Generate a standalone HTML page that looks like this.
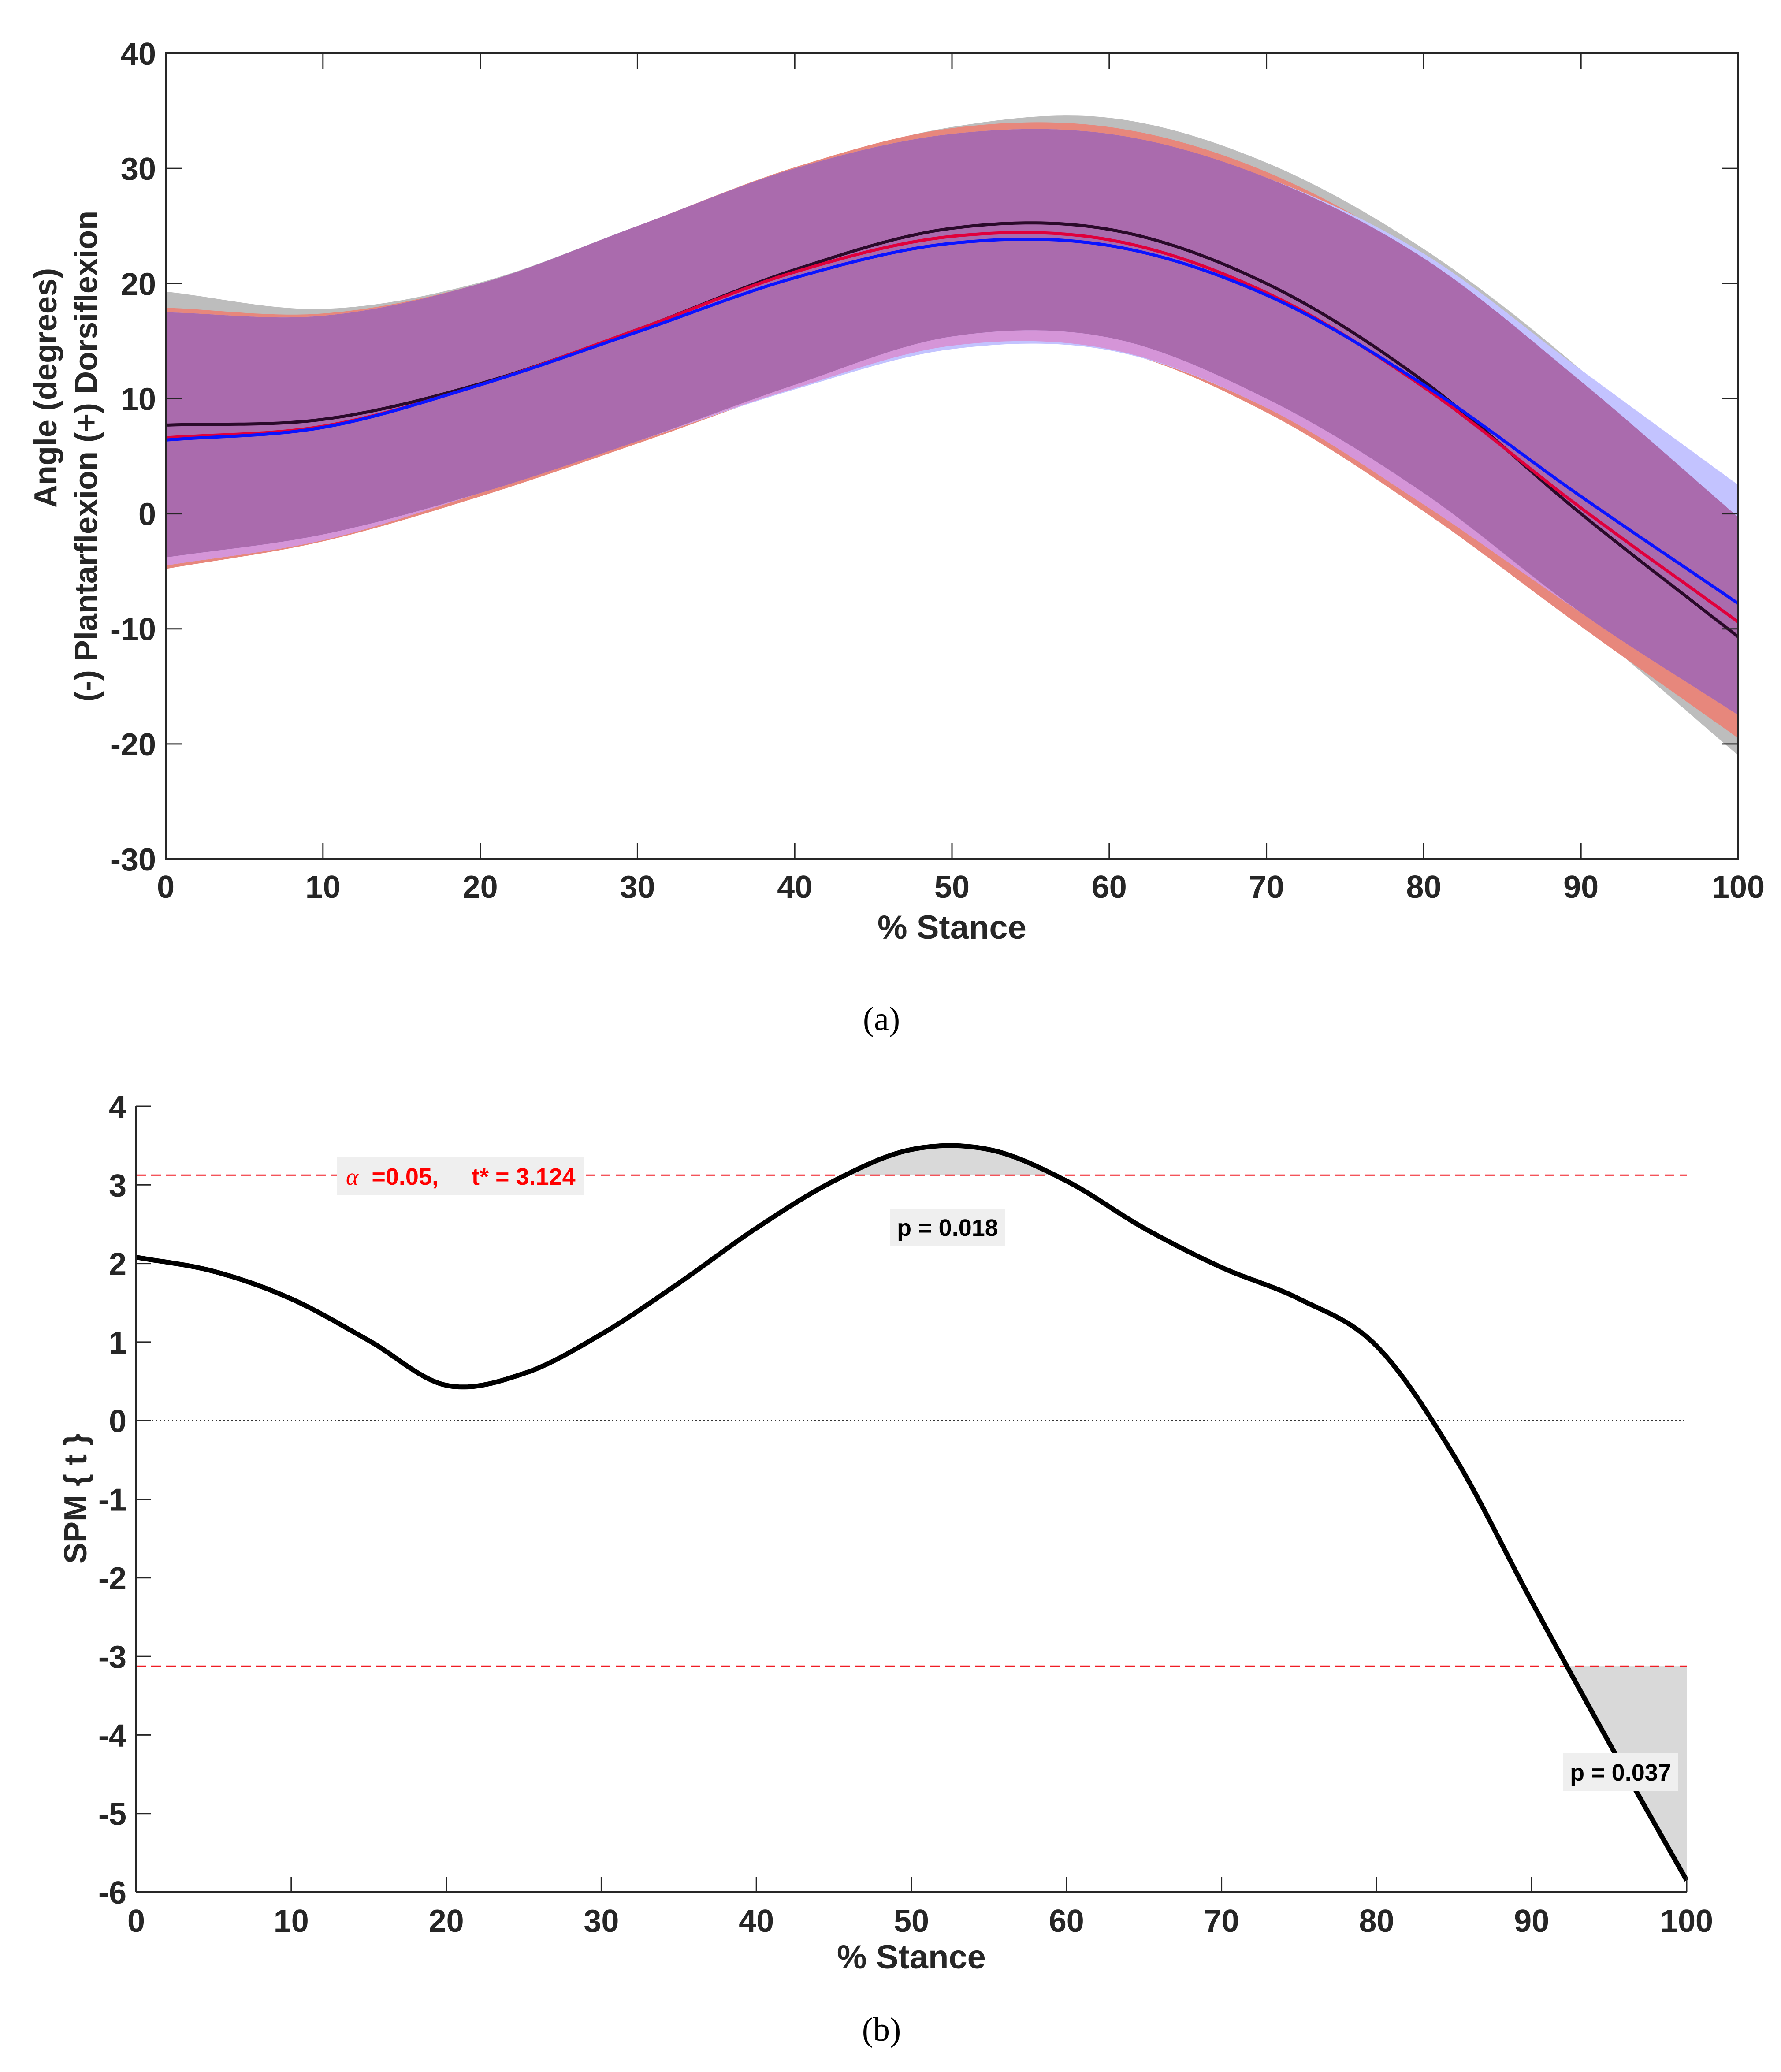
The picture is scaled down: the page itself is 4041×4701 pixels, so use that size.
<!DOCTYPE html>
<html><head><meta charset="utf-8"><style>
html,body{margin:0;padding:0;background:#fff;}
svg{display:block;}
text{font-family:"Liberation Sans",Arial,sans-serif;font-weight:bold;fill:#262626;}
.cap{font-family:"Liberation Serif",serif;font-weight:normal;fill:#000;}
</style></head><body>
<svg id="fig" width="4041" height="4701" viewBox="0 0 4041 4701" xmlns="http://www.w3.org/2000/svg">
<g id="pa"></g>
<g id="pb"></g>
<text class="cap" x="2000" y="2337" font-size="76" text-anchor="middle">(a)</text>
<text class="cap" x="2000" y="4630" font-size="76" text-anchor="middle">(b)</text>
</svg>
<script>
// ---------- Panel A data ----------
const xsA = [0,10,20,30,40,50,60,70,80,90,100];
const blackMean = [7.7,8.2,11.3,16,21.2,24.8,24.7,20,11.5,0,-10.7];
const redMean   = [6.6,7.6,11.2,16,21,24.1,23.8,19.2,11,0.5,-9.4];
const blueMean  = [6.4,7.5,11.2,15.8,20.5,23.5,23.3,19,11.2,1.5,-7.8];
const grayUpper = [19.3,17.8,20.1,25,30,33.6,34.4,30.5,23,12.5,-0.3];
const grayLower = [-3.8,-1.8,1.7,6.3,11.2,15.4,15.3,10,1.8,-9.3,-21];
const redUpper  = [17.9,17.4,20,25,30.1,33.5,33.6,29.7,22.2,11.5,-0.2];
const redLower  = [-4.8,-2.4,1.5,6.1,10.9,14.6,14.3,8.8,0.2,-9.8,-19.5];
const blueUpper = [17.5,17.2,20,25,30,33,33,29.2,22.6,12.5,2.5];
const blueLower = [-4.5,-2.3,1.8,6.3,10.8,14.3,14.2,9.2,0.8,-8.6,-17.5];
const yTicksA = [-30,-20,-10,0,10,20,30,40];
const xTicks = [0,10,20,30,40,50,60,70,80,90,100];

// ---------- Panel B data ----------
const xsB  = [0,5,10,15,20,25,30,35,40,45,50,55,60,65,70,75,80,85,90,95,100];
const spmT = [2.08,1.9,1.55,1.02,0.45,0.6,1.1,1.75,2.45,3.05,3.45,3.45,3.05,2.45,1.95,1.55,0.95,-0.45,-2.3,-4.1,-5.85];
const tCrit = 3.124;
const yTicksB = [-6,-5,-4,-3,-2,-1,0,1,2,3,4];
const pLabels = ["p = 0.018","p = 0.037"];

const NS="http://www.w3.org/2000/svg";
function mk(tag,attrs,parent,name){const e=document.createElementNS(NS,tag);for(const k in attrs)e.setAttribute(k,attrs[k]);


parent.appendChild(e);return e;}
function spline(xs,ys,n){
  const out=[];
  for(let i=0;i<xs.length-1;i++){
    const x0=xs[Math.max(i-1,0)],x1=xs[i],x2=xs[i+1],x3=xs[Math.min(i+2,xs.length-1)];
    const y0=ys[Math.max(i-1,0)],y1=ys[i],y2=ys[i+1],y3=ys[Math.min(i+2,ys.length-1)];
    const m1=(y2-y0)/((x2-x0)||1)*(x2-x1), m2=(y3-y1)/((x3-x1)||1)*(x2-x1);
    for(let j=0;j<n;j++){const t=j/n,t2=t*t,t3=t2*t;
      const y=(2*t3-3*t2+1)*y1+(t3-2*t2+t)*m1+(-2*t3+3*t2)*y2+(t3-t2)*m2;
      out.push([x1+(x2-x1)*t,y]);}
  }
  out.push([xs[xs.length-1],ys[ys.length-1]]);return out;
}

// ---------- Draw Panel A ----------
(function(){
 const g=document.getElementById('pa');
 const L=376,R=3944,T=121,B=1949;
 const X=v=>L+(v/100)*(R-L), Y=v=>B-(v+30)/70*(B-T);
 const band=(up,lo,fill,name)=>{const u=spline(xsA,up,30),l=spline(xsA,lo,30).reverse();
   const d=u.concat(l).map((p,i)=>(i?'L':'M')+X(p[0]).toFixed(1)+','+Y(p[1]).toFixed(1)).join('')+'Z';
   mk('path',{d,fill},g,name);};
 band(grayUpper,grayLower,'#bdbdbd','black-sd-band');
 band(redUpper,redLower,'#e7877c','red-sd-band');
 band(blueUpper,blueLower,'#c3c3ff','blue-sd-band');
 const iu=xsA.map((_,i)=>Math.min(grayUpper[i],redUpper[i],blueUpper[i]));
 const il=xsA.map((_,i)=>Math.max(grayLower[i],redLower[i],blueLower[i]));
 const pl=xsA.map((_,i)=>Math.max(redLower[i],blueLower[i]));
 band(il,pl,'#d595d8','overlap-lower-edge');
 band(iu,il,'#aa6bad','overlap-band');
 const line=(ys,col,name)=>{const p=spline(xsA,ys,30);
   mk('path',{d:p.map((q,i)=>(i?'L':'M')+X(q[0]).toFixed(1)+','+Y(q[1]).toFixed(1)).join(''),fill:'none',stroke:col,'stroke-width':7},g,name);};
 line(blackMean,'#2a0a2a','black-mean-line');
 line(redMean,'#e0003c','red-mean-line');
 line(blueMean,'#0a14ff','blue-mean-line');
 mk('rect',{x:L,y:T,width:R-L,height:B-T,fill:'none',stroke:'#262626','stroke-width':4},g,'plot-frame');
 xTicks.forEach(v=>{const x=X(v);
   mk('line',{x1:x,y1:B,x2:x,y2:B-36,stroke:'#262626','stroke-width':3},g,'x-tick');
   mk('line',{x1:x,y1:T,x2:x,y2:T+36,stroke:'#262626','stroke-width':3},g,'x-tick-top');
   const t=mk('text',{x:x,y:B+88,'font-size':72,'text-anchor':'middle'},g,'x-tick-label');t.textContent=v;});
 yTicksA.forEach(v=>{const y=Y(v);
   mk('line',{x1:L,y1:y,x2:L+36,y2:y,stroke:'#262626','stroke-width':3},g,'y-tick');
   mk('line',{x1:R,y1:y,x2:R-36,y2:y,stroke:'#262626','stroke-width':3},g,'y-tick-right');
   const t=mk('text',{x:L-22,y:y+26,'font-size':72,'text-anchor':'end'},g,'y-tick-label');t.textContent=v;});
 let t=mk('text',{x:(L+R)/2,y:2130,'font-size':76,'text-anchor':'middle'},g,'x-axis-title');t.textContent='% Stance';
 t=mk('text',{x:0,y:0,'font-size':72,'text-anchor':'middle',transform:'translate(128,880) rotate(-90)'},g,'y-axis-title-line1');t.textContent='Angle (degrees)';
 t=mk('text',{x:0,y:0,'font-size':72,'text-anchor':'middle',transform:'translate(220,1035) rotate(-90)'},g,'y-axis-title-line2');t.textContent='(-) Plantarflexion (+) Dorsiflexion';
})();

// ---------- Draw Panel B ----------
(function(){
 const g=document.getElementById('pb');
 const L=309,R=3827,T=2510,B=4293;
 const X=v=>L+(v/100)*(R-L), Y=v=>B-(v+6)/10*(B-T);
 const pts=spline(xsB,spmT,25);
 const up=pts.filter(p=>p[1]>=tCrit), dn=pts.filter(p=>p[1]<=-tCrit);
 if(up.length){const d='M'+X(up[0][0])+','+Y(tCrit)+up.map(p=>'L'+X(p[0]).toFixed(1)+','+Y(p[1]).toFixed(1)).join('')+'L'+X(up[up.length-1][0])+','+Y(tCrit)+'Z';
   mk('path',{d,fill:'#d9d9d9'},g,'cluster-upper-shade');}
 if(dn.length){const d='M'+X(dn[0][0])+','+Y(-tCrit)+dn.map(p=>'L'+X(p[0]).toFixed(1)+','+Y(p[1]).toFixed(1)).join('')+'L'+X(dn[dn.length-1][0])+','+Y(-tCrit)+'Z';
   mk('path',{d,fill:'#d9d9d9'},g,'cluster-lower-shade');}
 mk('line',{x1:L,y1:Y(0),x2:R,y2:Y(0),stroke:'#333','stroke-width':3,'stroke-dasharray':'3 6'},g,'zero-line');
 mk('line',{x1:L,y1:Y(tCrit),x2:R,y2:Y(tCrit),stroke:'#f01c24','stroke-width':3,'stroke-dasharray':'22 12'},g,'threshold-upper-line');
 mk('line',{x1:L,y1:Y(-tCrit),x2:R,y2:Y(-tCrit),stroke:'#f01c24','stroke-width':3,'stroke-dasharray':'22 12'},g,'threshold-lower-line');
 mk('path',{d:pts.map((q,i)=>(i?'L':'M')+X(q[0]).toFixed(1)+','+Y(q[1]).toFixed(1)).join(''),fill:'none',stroke:'#000','stroke-width':11,'stroke-linejoin':'round'},g,'spm-t-curve');
 mk('line',{x1:L,y1:T,x2:L,y2:B,stroke:'#262626','stroke-width':4},g,'y-axis-line');
 mk('line',{x1:L,y1:B,x2:R,y2:B,stroke:'#262626','stroke-width':4},g,'x-axis-line');
 xTicks.forEach(v=>{const x=X(v);
   mk('line',{x1:x,y1:B,x2:x,y2:B-34,stroke:'#262626','stroke-width':3},g,'x-tick');
   const t=mk('text',{x:x,y:B+90,'font-size':72,'text-anchor':'middle'},g,'x-tick-label');t.textContent=v;});
 yTicksB.forEach(v=>{const y=Y(v);
   mk('line',{x1:L,y1:y,x2:L+34,y2:y,stroke:'#262626','stroke-width':3},g,'y-tick');
   const t=mk('text',{x:L-22,y:y+26,'font-size':72,'text-anchor':'end'},g,'y-tick-label');t.textContent=v;});
 let t=mk('text',{x:(L+R)/2,y:4466,'font-size':76,'text-anchor':'middle'},g,'x-axis-title');t.textContent='% Stance';
 t=mk('text',{x:0,y:0,'font-size':72,'text-anchor':'middle',transform:'translate(196,3400) rotate(-90)'},g,'y-axis-title');t.textContent='SPM { t }';
 mk('rect',{x:765,y:2625,width:560,height:87,fill:'#efefef'},g,'alpha-label-box');
 t=mk('text',{x:785,y:2688,'font-size':54,style:'fill:#ff0000'},g,'alpha-threshold-label');
 t.innerHTML='<tspan font-style="italic" font-weight="normal" font-family="Liberation Serif">α</tspan>&#160;&#160;=0.05,&#160;&#160;&#160;&#160;&#160;t* = '+tCrit.toFixed(3);
 mk('rect',{x:2020,y:2742,width:260,height:86,fill:'#efefef'},g,'p-label-box-1');
 t=mk('text',{x:2150,y:2804,'font-size':54,'text-anchor':'middle',style:'fill:#000'},g,'p-value-label-1');t.textContent=pLabels[0];
 mk('rect',{x:3547,y:3978,width:260,height:86,fill:'#efefef'},g,'p-label-box-2');
 t=mk('text',{x:3677,y:4040,'font-size':54,'text-anchor':'middle',style:'fill:#000'},g,'p-value-label-2');t.textContent=pLabels[1];
})();
</script>
</body></html>
